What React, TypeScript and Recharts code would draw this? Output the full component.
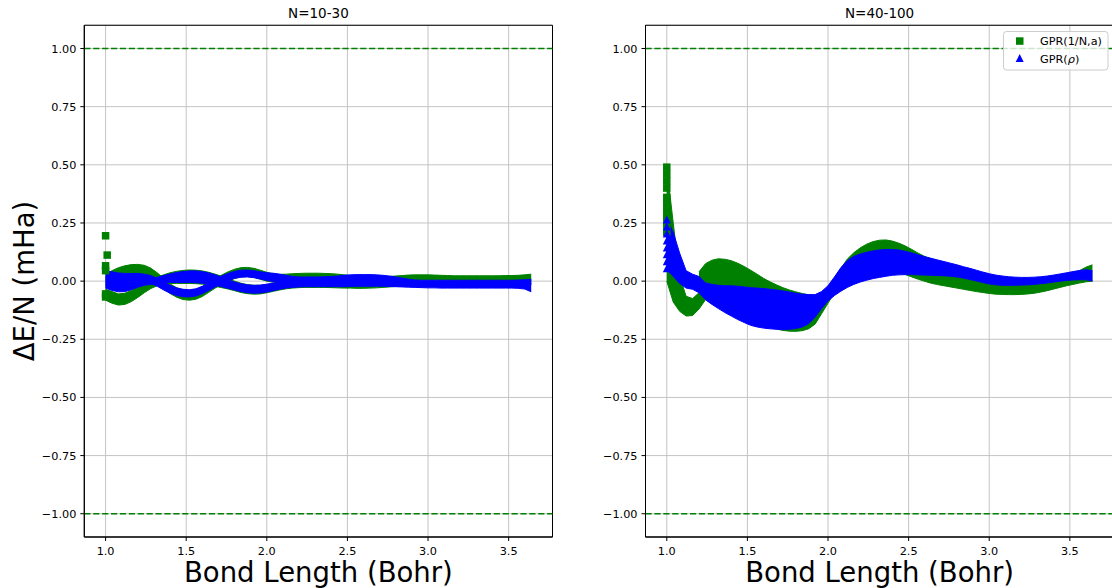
import React from 'react';
import {
  ComposedChart,
  Area,
  Scatter,
  XAxis,
  YAxis,
  CartesianGrid,
  ReferenceLine,
  ReferenceArea,
} from 'recharts';

// ---------------- data ----------------
const bondLength = [
  1.0, 1.04, 1.08, 1.12, 1.16, 1.2, 1.24, 1.28, 1.32, 1.36,
  1.4, 1.44, 1.48, 1.52, 1.56, 1.6, 1.64, 1.68, 1.72, 1.76,
  1.8, 1.84, 1.88, 1.92, 1.96, 2.0, 2.04, 2.08, 2.12, 2.16,
  2.2, 2.24, 2.28, 2.32, 2.36, 2.4, 2.44, 2.48, 2.52, 2.56,
  2.6, 2.64, 2.68, 2.72, 2.76, 2.8, 2.84, 2.88, 2.92, 2.96,
  3.0, 3.04, 3.08, 3.12, 3.16, 3.2, 3.24, 3.28, 3.32, 3.36,
  3.4, 3.44, 3.48, 3.52, 3.56, 3.6, 3.64,
];

// N=10-30 : GPR(1/N,a) strands (green)
const leftG1Hi = [
  0.03, 0.045, 0.058, 0.066, 0.071, 0.072, 0.068, 0.056, 0.036, 0.012,
  -0.012, -0.028, -0.038, -0.04, -0.036, -0.024, -0.007, 0.01, 0.026, 0.04,
  0.051, 0.058, 0.059, 0.055, 0.047, 0.038, 0.031, 0.029, 0.03, 0.032,
  0.033, 0.034, 0.034, 0.034, 0.033, 0.032, 0.03, 0.027, 0.024, 0.021,
  0.019, 0.018, 0.018, 0.019, 0.02, 0.022, 0.024, 0.026, 0.027, 0.027,
  0.027, 0.026, 0.025, 0.024, 0.023, 0.023, 0.023, 0.023, 0.023, 0.023,
  0.023, 0.023, 0.024, 0.024, 0.025, 0.027, 0.03,
];
const leftG1Lo = [
  -0.02, -0.005, 0.008, 0.02, 0.028, 0.03, 0.026, 0.014, -0.006, -0.03,
  -0.053, -0.069, -0.079, -0.082, -0.078, -0.066, -0.048, -0.03, -0.014, 0.0,
  0.011, 0.018, 0.02, 0.016, 0.008, 0.0, -0.005, -0.004, 0.0, 0.004,
  0.007, 0.009, 0.01, 0.01, 0.009, 0.008, 0.006, 0.003, 0.0, -0.002,
  -0.004, -0.005, -0.005, -0.004, -0.003, -0.001, 0.001, 0.003, 0.004, 0.005,
  0.005, 0.005, 0.005, 0.004, 0.004, 0.004, 0.004, 0.004, 0.004, 0.004,
  0.004, 0.004, 0.004, 0.004, 0.004, 0.003, -0.003,
];
const leftG2Hi = [
  -0.035, -0.045, -0.055, -0.052, -0.04, -0.024, -0.008, 0.006, 0.018, 0.027,
  0.036, 0.042, 0.046, 0.048, 0.047, 0.044, 0.038, 0.03, 0.021, 0.011,
  0.0, -0.009, -0.015, -0.018, -0.018, -0.015, -0.011, -0.007, -0.004, -0.002,
  -0.001, -0.001, -0.001, -0.002, -0.002, -0.003, -0.003, -0.003, -0.003, -0.003,
  -0.003, -0.003, -0.003, -0.002, -0.001, 0.0, 0.0, 0.0, 0.0, 0.0,
  0.0, 0.0, 0.0, 0.0, 0.0, 0.001, 0.001, 0.002, 0.002, 0.003,
  0.003, 0.004, 0.004, 0.005, 0.005, 0.006, 0.006,
];
const leftG2Lo = [
  -0.082, -0.095, -0.103, -0.1, -0.088, -0.07, -0.05, -0.032, -0.02, -0.013,
  -0.01, -0.01, -0.01, -0.01, -0.011, -0.013, -0.017, -0.022, -0.028, -0.034,
  -0.041, -0.049, -0.054, -0.056, -0.055, -0.05, -0.044, -0.038, -0.033, -0.03,
  -0.028, -0.027, -0.027, -0.027, -0.027, -0.028, -0.029, -0.03, -0.03, -0.031,
  -0.031, -0.03, -0.029, -0.027, -0.025, -0.023, -0.021, -0.02, -0.019, -0.018,
  -0.018, -0.018, -0.018, -0.018, -0.018, -0.018, -0.018, -0.017, -0.016, -0.015,
  -0.014, -0.013, -0.012, -0.011, -0.01, -0.01, -0.01,
];
// N=10-30 : GPR(rho) strands (blue)
const leftB1Hi = [
  0.045, 0.04, 0.035, 0.033, 0.033, 0.033, 0.03, 0.024, 0.012, -0.004,
  -0.018, -0.029, -0.035, -0.037, -0.033, -0.022, -0.008, 0.008, 0.022, 0.033,
  0.042, 0.047, 0.048, 0.045, 0.04, 0.036, 0.034, 0.03, 0.025, 0.02,
  0.018, 0.018, 0.018, 0.018, 0.019, 0.02, 0.022, 0.025, 0.027, 0.028,
  0.028, 0.028, 0.027, 0.025, 0.022, 0.018, 0.013, 0.008, 0.005, 0.004,
  0.004, 0.004, 0.004, 0.004, 0.004, 0.004, 0.004, 0.004, 0.004, 0.004,
  0.004, 0.004, 0.004, 0.004, 0.005, 0.006, 0.008,
];
const leftB1Lo = [
  -0.03, -0.02, -0.01, -0.004, 0.0, 0.0, -0.003, -0.01, -0.022, -0.038,
  -0.052, -0.062, -0.067, -0.068, -0.064, -0.054, -0.04, -0.025, -0.01, 0.002,
  0.012, 0.017, 0.018, 0.015, 0.009, 0.003, -0.002, -0.004, -0.005, -0.006,
  -0.006, -0.006, -0.006, -0.006, -0.006, -0.006, -0.006, -0.006, -0.006, -0.006,
  -0.006, -0.006, -0.006, -0.006, -0.006, -0.006, -0.006, -0.006, -0.008, -0.01,
  -0.01, -0.01, -0.01, -0.01, -0.01, -0.01, -0.01, -0.01, -0.01, -0.01,
  -0.01, -0.01, -0.01, -0.01, -0.01, -0.012, -0.015,
];
const leftB2Hi = [
  0.02, 0.01, 0.0, 0.0, 0.0, 0.0, 0.0, 0.006, 0.016, 0.024,
  0.031, 0.037, 0.041, 0.044, 0.044, 0.041, 0.035, 0.027, 0.017, 0.006,
  -0.004, -0.011, -0.016, -0.018, -0.017, -0.013, -0.008, -0.004, -0.002, 0.0,
  0.0, 0.0, 0.0, 0.0, 0.0, 0.0, 0.0, 0.0, 0.0, 0.0,
  0.0, 0.0, 0.0, 0.0, 0.0, 0.0, 0.0, 0.0, -0.002, -0.004,
  -0.005, -0.005, -0.005, -0.005, -0.005, -0.005, -0.005, -0.005, -0.005, -0.005,
  -0.005, -0.005, -0.005, -0.005, -0.005, -0.006, -0.01,
];
const leftB2Lo = [
  -0.03, -0.04, -0.046, -0.045, -0.037, -0.026, -0.018, -0.014, -0.01, -0.007,
  -0.006, -0.006, -0.006, -0.006, -0.007, -0.009, -0.013, -0.018, -0.024, -0.031,
  -0.038, -0.045, -0.05, -0.052, -0.051, -0.047, -0.041, -0.035, -0.03, -0.027,
  -0.025, -0.024, -0.024, -0.024, -0.024, -0.024, -0.024, -0.024, -0.023, -0.022,
  -0.022, -0.022, -0.022, -0.022, -0.023, -0.024, -0.025, -0.026, -0.027, -0.028,
  -0.029, -0.029, -0.03, -0.03, -0.03, -0.03, -0.03, -0.03, -0.03, -0.03,
  -0.03, -0.03, -0.03, -0.03, -0.031, -0.034, -0.046,
];
// isolated GPR(1/N,a) markers at the short-bond end (N=10-30)
const leftGreenPoints = [
  { x: 1.0, y: 0.195 },
  { x: 1.01, y: 0.112 },
  { x: 1.0, y: 0.066 },
  { x: 1.0, y: 0.045 },
  { x: 1.0, y: -0.055 },
  { x: 1.0, y: -0.068 },
];

// N=40-100 : GPR(1/N,a) (green) — early dip strand (first 7 bond lengths) and main band
const rightGDipHi = [0.49, 0.25, 0.02, -0.065, -0.075, -0.05, -0.02];
const rightGDipLo = [0.0, -0.09, -0.13, -0.15, -0.148, -0.12, -0.08];
const rightGHi = [
  null, null, null, null, null, 0.04, 0.075, 0.09, 0.096, 0.094,
  0.088, 0.077, 0.063, 0.047, 0.03, 0.012, -0.003, -0.016, -0.028, -0.038,
  -0.046, -0.053, -0.059, -0.062, -0.05, -0.025, 0.012, 0.055, 0.095, 0.122,
  0.143, 0.159, 0.17, 0.176, 0.177, 0.172, 0.163, 0.151, 0.136, 0.12,
  0.106, 0.096, 0.087, 0.078, 0.07, 0.062, 0.054, 0.046, 0.039, 0.032,
  0.026, 0.021, 0.017, 0.014, 0.012, 0.011, 0.011, 0.012, 0.014, 0.017,
  0.021, 0.026, 0.031, 0.037, 0.045, 0.06, 0.07,
];
const rightGLo = [
  null, null, null, null, null, -0.06, -0.07, -0.08, -0.09, -0.1,
  -0.11, -0.125, -0.14, -0.155, -0.17, -0.185, -0.197, -0.206, -0.212, -0.215,
  -0.216, -0.213, -0.205, -0.185, -0.14, -0.095, -0.05, -0.02, -0.002, 0.01,
  0.02, 0.028, 0.034, 0.038, 0.04, 0.04, 0.036, 0.028, 0.018, 0.008,
  -0.001, -0.009, -0.015, -0.02, -0.025, -0.03, -0.035, -0.04, -0.045, -0.049,
  -0.053, -0.056, -0.057, -0.058, -0.058, -0.057, -0.055, -0.052, -0.047, -0.041,
  -0.034, -0.027, -0.02, -0.014, -0.008, -0.003, 0.0,
];
// N=40-100 : GPR(rho) band (blue)
const rightBHi = [
  0.27, 0.21, 0.12, 0.045, 0.03, 0.02, -0.008, -0.014, -0.018, -0.02,
  -0.02, -0.022, -0.025, -0.028, -0.03, -0.032, -0.035, -0.038, -0.042, -0.047,
  -0.052, -0.056, -0.058, -0.058, -0.045, -0.02, 0.018, 0.058, 0.088, 0.106,
  0.117, 0.124, 0.13, 0.134, 0.136, 0.136, 0.134, 0.128, 0.121, 0.113,
  0.105, 0.098, 0.091, 0.084, 0.077, 0.07, 0.062, 0.055, 0.047, 0.039,
  0.032, 0.026, 0.022, 0.019, 0.017, 0.016, 0.016, 0.017, 0.019, 0.022,
  0.026, 0.031, 0.036, 0.041, 0.046, 0.049, 0.045,
];
const rightBLo = [
  0.05, 0.02, -0.01, -0.03, -0.035, -0.05, -0.08, -0.1, -0.118, -0.135,
  -0.15, -0.165, -0.178, -0.19, -0.197, -0.202, -0.205, -0.207, -0.208, -0.207,
  -0.204, -0.197, -0.183, -0.155, -0.118, -0.085, -0.062, -0.043, -0.027, -0.014,
  -0.004, 0.004, 0.011, 0.016, 0.021, 0.025, 0.027, 0.028, 0.028, 0.027,
  0.026, 0.025, 0.024, 0.023, 0.021, 0.018, 0.013, 0.007, 0.001, -0.006,
  -0.012, -0.016, -0.018, -0.018, -0.018, -0.017, -0.016, -0.014, -0.011, -0.008,
  -0.004, 0.0, 0.003, 0.005, 0.006, 0.006, 0.0,
];
// marker columns at bond length 1.0 (N=40-100)
const rightGreenColumn = [0.49, 0.46, 0.43, 0.4, 0.36, 0.33, 0.3, 0.27, 0.24, 0.21];
const rightBlueColumn = [0.265, 0.235, 0.205, 0.175, 0.145, 0.115, 0.085, 0.055];

const xTicks = [1.0, 1.5, 2.0, 2.5, 3.0, 3.5];
const yTicks = [-1.0, -0.75, -0.5, -0.25, 0.0, 0.25, 0.5, 0.75, 1.0];
const xDomain: [number, number] = [0.868, 3.772];
const yDomain: [number, number] = [-1.1, 1.1];
const titles = ['N=10-30', 'N=40-100'];
const xLabel = 'Bond Length (Bohr)';
const yLabel = 'ΔE/N (mHa)';
const legendNames = ['GPR(1/N,a)', 'GPR(ρ)'];

// --------------- tables ---------------
const pair = (lo: (number | null)[], hi: (number | null)[], i: number) =>
  i < hi.length && hi[i] != null && lo[i] != null ? [lo[i], hi[i]] : null;

const leftTable = bondLength.map((x, i) => ({
  x,
  g1: pair(leftG1Lo, leftG1Hi, i),
  g2: pair(leftG2Lo, leftG2Hi, i),
  b1: pair(leftB1Lo, leftB1Hi, i),
  b2: pair(leftB2Lo, leftB2Hi, i),
}));
const rightTable = bondLength.map((x, i) => ({
  x,
  gd: pair(rightGDipLo, rightGDipHi, i),
  gm: pair(rightGLo, rightGHi, i),
  b: pair(rightBLo, rightBHi, i),
}));
const rightGreenPts = rightGreenColumn.map((y) => ({ x: 1.0, y }));
const rightBluePts = rightBlueColumn.map((y) => ({ x: 1.0, y }));

// --------------- style ---------------
const GREEN = '#008000';
const BLUE = '#0000ff';
const FONT = 'DejaVu Sans, sans-serif';

const squareShape = (props: any) => {
  const { cx, cy } = props;
  if (cx == null || cy == null) return <g />;
  return <rect x={cx - 3.75} y={cy - 3.75} width={7.5} height={7.5} fill={GREEN} />;
};
const triangleShape = (props: any) => {
  const { cx, cy } = props;
  if (cx == null || cy == null) return <g />;
  return (
    <polygon
      points={`${cx},${cy - 4} ${cx - 4},${cy + 4} ${cx + 4},${cy + 4}`}
      fill={BLUE}
    />
  );
};

const fmtY = (v: number) => (v < 0 ? '\u2212' : '') + Math.abs(v).toFixed(2);
const fmtX = (v: number) => v.toFixed(1);

const band = (key: string, color: string) => (
  <Area
    key={key}
    type="linear"
    dataKey={key}
    stroke={color}
    strokeWidth={1}
    fill={color}
    fillOpacity={1}
    dot={false}
    activeDot={false}
    connectNulls={false}
    isAnimationActive={false}
  />
);

function Panel({
  data,
  greenKeys,
  blueKeys,
  greenPts,
  bluePts,
  yAxisWidth,
  marginRight,
}: any) {
  return (
    <ComposedChart
      width={560}
      height={588}
      data={data}
      margin={{ top: 25.25, right: marginRight, bottom: 0, left: 0 }}
    >
      <CartesianGrid stroke="#c4c4c4" strokeWidth={1} />
      <XAxis
        type="number"
        dataKey="x"
        domain={xDomain}
        ticks={xTicks}
        tickFormatter={fmtX}
        allowDataOverflow
        height={51}
        tickSize={4}
        tickMargin={6}
        stroke="#000"
        tick={{ fill: '#000', fontSize: 11.25, fontFamily: FONT }}
      />
      <YAxis
        type="number"
        domain={yDomain}
        ticks={yTicks}
        tickFormatter={fmtY}
        allowDataOverflow
        width={yAxisWidth}
        tickSize={4}
        tickMargin={4}
        stroke="#000"
        tick={{ fill: '#000', fontSize: 11.25, fontFamily: FONT }}
      />
      <ReferenceLine y={1} stroke={GREEN} strokeWidth={1.7} strokeDasharray="6.2 2.7" />
      <ReferenceLine y={-1} stroke={GREEN} strokeWidth={1.7} strokeDasharray="6.2 2.7" />
      {greenKeys.map((k: string) => band(k, GREEN))}
      {greenPts && greenPts.length > 0 && (
        <Scatter data={greenPts} dataKey="y" shape={squareShape} isAnimationActive={false} />
      )}
      {blueKeys.map((k: string) => band(k, BLUE))}
      {bluePts && bluePts.length > 0 && (
        <Scatter data={bluePts} dataKey="y" shape={triangleShape} isAnimationActive={false} />
      )}
      <ReferenceArea
        x1={xDomain[0]}
        x2={xDomain[1]}
        y1={yDomain[0]}
        y2={yDomain[1]}
        fill="none"
        fillOpacity={0}
        stroke="#000"
        strokeWidth={1}
        ifOverflow="visible"
      />
    </ComposedChart>
  );
}

export default function App() {
  return (
    <div
      style={{
        position: 'absolute',
        left: 0,
        top: 0,
        width: 1112,
        height: 588,
        overflow: 'hidden',
        background: '#fff',
        fontFamily: FONT,
      }}
    >
      <div style={{ position: 'absolute', left: 0, top: 0 }}>
        <Panel
          data={leftTable}
          greenKeys={['g1', 'g2']}
          blueKeys={['b1', 'b2']}
          greenPts={leftGreenPoints}
          bluePts={[]}
          yAxisWidth={84.3}
          marginRight={7.5}
        />
      </div>
      <div style={{ position: 'absolute', left: 560, top: 0 }}>
        <Panel
          data={rightTable}
          greenKeys={['gd', 'gm']}
          blueKeys={['b']}
          greenPts={rightGreenPts}
          bluePts={rightBluePts}
          yAxisWidth={85.5}
          marginRight={6.3}
        />
      </div>
      <svg
        width={1112}
        height={588}
        style={{ position: 'absolute', left: 0, top: 0, pointerEvents: 'none' }}
        fontFamily={FONT}
      >
        <text x={318.4} y={17.5} fontSize={13.5} textAnchor="middle" fill="#000">
          {titles[0]}
        </text>
        <text x={879.6} y={17.5} fontSize={13.5} textAnchor="middle" fill="#000">
          {titles[1]}
        </text>
        <text x={318.4} y={582} fontSize={27.5} textAnchor="middle" fill="#000">
          {xLabel}
        </text>
        <text x={879.6} y={582} fontSize={27.5} textAnchor="middle" fill="#000">
          {xLabel}
        </text>
        <text
          x={0}
          y={0}
          fontSize={27.5}
          textAnchor="middle"
          fill="#000"
          transform="translate(33.5,281) rotate(-90)"
        >
          {yLabel}
        </text>
        {/* legend */}
        <rect
          x={1003.5}
          y={31.5}
          width={104.5}
          height={38.5}
          rx={3}
          fill="#fff"
          fillOpacity={0.8}
          stroke="#cccccc"
          strokeWidth={1}
        />
        <rect x={1016} y={37.3} width={7.5} height={7.5} fill={GREEN} />
        <text x={1040} y={45} fontSize={11.25} fill="#000">
          {legendNames[0]}
        </text>
        <polygon points="1019.7,54 1015.7,62 1023.7,62" fill={BLUE} />
        <text x={1040} y={62.5} fontSize={11.25} fill="#000">
          GPR(<tspan fontStyle="italic">ρ</tspan>)
        </text>
      </svg>
    </div>
  );
}
